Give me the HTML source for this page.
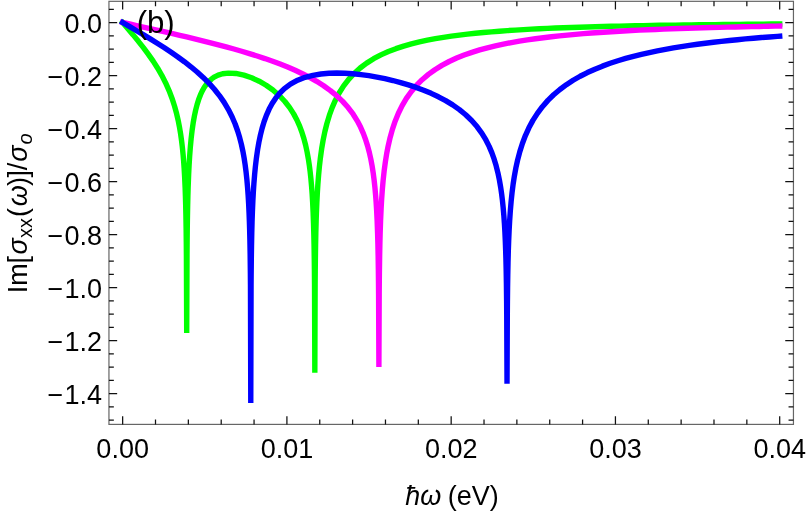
<!DOCTYPE html>
<html><head><meta charset="utf-8"><title>plot</title><style>html,body{margin:0;padding:0;background:#fff;overflow:hidden}</style></head><body>
<svg width="806" height="513" viewBox="0 0 806 513" style="position:absolute;left:0;top:0;will-change:transform;font-family:'Liberation Sans',sans-serif">
<rect x="0" y="0" width="806" height="513" fill="#fff"/>
<path d="M122.65 22.50 L127.90 28.66 L133.15 34.90 L138.40 41.30 L143.40 47.64 L148.40 54.34 L153.15 61.15 L157.65 68.19 L161.90 75.57 L165.65 82.92 L169.15 90.79 L172.15 98.68 L174.65 106.46 L176.65 113.83 L178.15 120.33 L179.40 126.65 L180.65 134.14 L181.65 141.32 L182.40 147.71 L183.15 155.34 L183.65 161.38 L184.15 168.53 L184.65 177.26 L185.15 188.49 L185.41 195.93 L185.65 204.19 L185.90 215.18 L186.15 230.34 L186.31 244.35 L186.40 254.74 L186.71 332.90 L187.01 254.69 L187.11 242.37 L187.26 228.69 L187.40 219.01 L187.65 205.62 L187.90 195.39 L188.15 187.11 L188.65 174.16 L189.15 164.21 L189.65 156.15 L190.40 146.39 L191.15 138.52 L192.15 130.01 L193.15 123.08 L194.40 115.98 L195.65 110.14 L197.15 104.36 L198.65 99.58 L200.40 94.96 L202.15 91.15 L204.15 87.55 L206.40 84.27 L208.90 81.37 L211.65 78.89 L214.65 76.84 L218.15 75.13 L222.65 73.78 L228.40 73.09 L235.90 73.48 L243.90 75.15 L251.65 77.77 L259.15 81.20 L266.15 85.24 L272.90 90.03 L279.15 95.43 L284.90 101.51 L289.65 107.63 L293.65 113.88 L296.90 119.99 L299.65 126.18 L301.90 132.21 L303.90 138.60 L305.65 145.30 L307.15 152.22 L308.40 159.17 L309.40 165.83 L310.15 171.72 L310.90 178.69 L311.65 187.20 L312.15 194.11 L312.63 202.20 L313.13 212.74 L313.53 223.76 L313.83 234.60 L314.08 246.53 L314.28 259.43 L314.40 269.29 L314.53 284.75 L314.83 372.80 L315.13 283.99 L315.23 271.75 L315.38 258.17 L315.58 244.91 L315.83 232.57 L316.13 221.28 L316.40 213.25 L316.90 201.24 L317.40 191.80 L317.90 184.03 L318.65 174.43 L319.40 166.54 L320.40 157.79 L321.65 148.82 L323.15 140.00 L324.90 131.52 L326.90 123.49 L329.40 115.18 L332.15 107.60 L335.40 100.14 L339.15 92.99 L343.65 85.88 L348.65 79.36 L354.15 73.42 L360.15 68.02 L366.65 63.13 L373.65 58.73 L380.90 54.90 L388.40 51.54 L395.90 48.67 L403.65 46.12 L411.40 43.92 L419.40 41.94 L427.40 40.21 L435.40 38.69 L443.40 37.34 L451.40 36.15 L459.40 35.09 L467.40 34.14 L475.40 33.28 L483.40 32.51 L491.40 31.82 L499.40 31.19 L507.40 30.61 L515.40 30.09 L523.40 29.61 L531.40 29.17 L539.40 28.77 L547.40 28.40 L555.40 28.06 L563.40 27.74 L571.40 27.45 L579.40 27.18 L587.40 26.93 L595.40 26.70 L603.40 26.48 L611.40 26.28 L619.40 26.09 L627.40 25.92 L635.40 25.76 L643.40 25.60 L651.40 25.46 L659.40 25.32 L667.40 25.20 L675.40 25.08 L683.40 24.96 L691.40 24.86 L699.40 24.76 L707.40 24.66 L715.40 24.58 L723.40 24.49 L731.40 24.41 L739.40 24.34 L747.40 24.26 L755.40 24.20 L763.40 24.13 L771.40 24.07 L779.40 24.01 L779.69 24.01" fill="none" stroke="#00ff00" stroke-width="5.4" stroke-linecap="square" stroke-linejoin="bevel"/>
<path d="M122.65 22.50 L130.65 24.26 L138.65 26.02 L146.65 27.79 L154.65 29.57 L162.65 31.37 L170.65 33.19 L178.65 35.04 L186.65 36.91 L194.65 38.83 L202.65 40.79 L210.65 42.80 L218.40 44.81 L226.15 46.88 L233.90 49.02 L241.65 51.25 L249.40 53.57 L257.15 56.01 L264.90 58.57 L272.65 61.28 L280.15 64.08 L287.65 67.07 L295.15 70.29 L302.40 73.68 L309.65 77.38 L316.65 81.33 L323.65 85.75 L330.40 90.58 L336.65 95.70 L342.65 101.40 L348.15 107.55 L353.15 114.23 L357.40 121.08 L360.65 127.34 L363.40 133.62 L365.65 139.70 L367.65 146.09 L369.40 152.73 L370.90 159.53 L372.15 166.29 L373.15 172.71 L374.15 180.40 L374.90 187.36 L375.65 195.81 L376.15 202.64 L376.65 210.88 L377.15 221.24 L377.60 233.43 L377.90 244.32 L378.15 256.29 L378.35 269.24 L378.50 282.56 L378.60 294.62 L378.90 366.90 L379.20 294.03 L379.30 281.81 L379.40 271.95 L379.65 255.05 L379.90 242.76 L380.15 233.04 L380.60 219.98 L381.10 208.86 L381.65 199.13 L382.40 188.66 L383.15 180.20 L384.15 170.97 L385.40 161.60 L386.65 153.86 L388.15 146.06 L390.15 137.42 L392.40 129.38 L395.15 121.23 L398.40 113.25 L402.15 105.62 L406.40 98.42 L411.15 91.69 L416.40 85.45 L422.15 79.69 L428.40 74.38 L434.90 69.69 L441.90 65.36 L449.15 61.50 L456.65 58.06 L464.15 55.05 L471.90 52.34 L479.65 49.94 L487.40 47.82 L495.40 45.88 L503.40 44.14 L511.40 42.58 L519.40 41.18 L527.40 39.91 L535.40 38.76 L543.40 37.72 L551.40 36.76 L559.40 35.89 L567.40 35.09 L575.40 34.36 L583.40 33.68 L591.40 33.06 L599.40 32.48 L607.40 31.95 L615.40 31.45 L623.40 30.99 L631.40 30.56 L639.40 30.16 L647.40 29.79 L655.40 29.44 L663.40 29.12 L671.40 28.81 L679.40 28.52 L687.40 28.25 L695.40 28.00 L703.40 27.76 L711.40 27.54 L719.40 27.33 L727.40 27.13 L735.40 26.94 L743.40 26.76 L751.40 26.59 L759.40 26.43 L767.40 26.28 L775.40 26.14 L779.69 26.06" fill="none" stroke="#ff00ff" stroke-width="5.4" stroke-linecap="square" stroke-linejoin="bevel"/>
<path d="M122.65 22.50 L129.65 26.60 L136.65 30.73 L143.65 34.90 L150.65 39.14 L157.65 43.49 L164.40 47.80 L171.15 52.28 L177.90 56.96 L184.40 61.72 L190.90 66.77 L197.15 71.99 L203.15 77.44 L208.90 83.18 L214.40 89.29 L219.40 95.57 L224.15 102.40 L228.40 109.53 L232.15 116.96 L235.15 124.01 L237.65 130.98 L239.65 137.57 L241.40 144.39 L242.90 151.34 L244.15 158.24 L245.15 164.79 L246.15 172.66 L246.90 179.79 L247.65 188.49 L248.15 195.57 L248.65 204.19 L249.07 213.28 L249.40 222.06 L249.65 230.34 L249.90 240.75 L250.15 254.74 L250.37 273.18 L250.47 285.20 L250.77 403.10 L251.07 284.26 L251.15 274.51 L251.32 258.42 L251.52 245.14 L251.77 232.79 L252.07 221.50 L252.40 211.81 L252.90 200.21 L253.40 191.06 L253.90 183.50 L254.65 174.16 L255.40 166.49 L256.40 158.03 L257.65 149.39 L258.90 142.26 L260.40 135.10 L262.15 128.15 L264.15 121.54 L266.40 115.34 L269.15 109.09 L272.15 103.50 L275.65 98.16 L279.65 93.24 L284.40 88.60 L290.40 84.11 L297.65 80.16 L305.15 77.29 L312.90 75.29 L320.90 73.98 L328.90 73.28 L336.90 73.06 L344.90 73.24 L352.90 73.77 L360.90 74.60 L368.90 75.69 L376.90 77.05 L384.90 78.65 L392.90 80.51 L400.65 82.55 L408.40 84.85 L416.15 87.43 L423.65 90.22 L431.15 93.36 L438.40 96.78 L445.65 100.64 L452.65 104.91 L459.40 109.65 L465.65 114.75 L471.65 120.51 L477.15 126.80 L481.90 133.33 L485.90 139.94 L489.15 146.37 L491.90 152.86 L494.15 159.17 L496.15 165.83 L497.90 172.80 L499.40 179.99 L500.65 187.20 L501.65 194.11 L502.40 200.22 L503.15 207.45 L503.90 216.28 L504.40 223.47 L504.90 232.22 L505.32 241.33 L505.65 250.34 L505.90 258.74 L506.15 269.29 L506.40 283.49 L506.62 301.75 L506.72 313.83 L507.02 383.70 L507.32 313.40 L507.40 303.20 L507.57 287.68 L507.77 274.50 L508.02 262.24 L508.32 251.04 L508.65 241.31 L509.15 229.83 L509.65 220.76 L510.40 209.93 L511.15 201.24 L512.15 191.80 L513.15 184.03 L514.40 175.89 L515.90 167.76 L517.65 159.82 L519.90 151.33 L522.40 143.46 L525.40 135.56 L528.90 127.83 L532.90 120.40 L537.40 113.33 L542.40 106.67 L547.90 100.40 L553.65 94.77 L559.90 89.46 L566.40 84.65 L573.15 80.26 L580.15 76.25 L587.40 72.56 L594.90 69.17 L602.40 66.13 L610.15 63.31 L617.90 60.76 L625.65 58.45 L633.40 56.34 L641.40 54.36 L649.40 52.55 L657.40 50.88 L665.40 49.35 L673.40 47.93 L681.40 46.63 L689.40 45.41 L697.40 44.29 L705.40 43.24 L713.40 42.26 L721.40 41.34 L729.40 40.49 L737.40 39.69 L745.40 38.93 L753.40 38.23 L761.40 37.56 L769.40 36.94 L777.40 36.35 L779.69 36.18" fill="none" stroke="#0000ff" stroke-width="5.4" stroke-linecap="square" stroke-linejoin="bevel"/>
<rect x="108.95" y="1.32" width="684.5" height="423.08" fill="none" stroke="#666" stroke-width="1.2"/>
<path d="M122.65 424.4 v-8.2 M122.65 1.32 v8.2 M155.50 424.4 v-4.9 M155.50 1.32 v4.9 M188.35 424.4 v-4.9 M188.35 1.32 v4.9 M221.21 424.4 v-4.9 M221.21 1.32 v4.9 M254.06 424.4 v-4.9 M254.06 1.32 v4.9 M286.91 424.4 v-8.2 M286.91 1.32 v8.2 M319.76 424.4 v-4.9 M319.76 1.32 v4.9 M352.61 424.4 v-4.9 M352.61 1.32 v4.9 M385.47 424.4 v-4.9 M385.47 1.32 v4.9 M418.32 424.4 v-4.9 M418.32 1.32 v4.9 M451.17 424.4 v-8.2 M451.17 1.32 v8.2 M484.02 424.4 v-4.9 M484.02 1.32 v4.9 M516.87 424.4 v-4.9 M516.87 1.32 v4.9 M549.73 424.4 v-4.9 M549.73 1.32 v4.9 M582.58 424.4 v-4.9 M582.58 1.32 v4.9 M615.43 424.4 v-8.2 M615.43 1.32 v8.2 M648.28 424.4 v-4.9 M648.28 1.32 v4.9 M681.13 424.4 v-4.9 M681.13 1.32 v4.9 M713.99 424.4 v-4.9 M713.99 1.32 v4.9 M746.84 424.4 v-4.9 M746.84 1.32 v4.9 M779.69 424.4 v-8.2 M779.69 1.32 v8.2 M108.95 420.11 h4.9 M793.45 420.11 h-4.9 M108.95 406.85 h4.9 M793.45 406.85 h-4.9 M108.95 393.60 h8.2 M793.45 393.60 h-8.2 M108.95 380.34 h4.9 M793.45 380.34 h-4.9 M108.95 367.09 h4.9 M793.45 367.09 h-4.9 M108.95 353.84 h4.9 M793.45 353.84 h-4.9 M108.95 340.58 h8.2 M793.45 340.58 h-8.2 M108.95 327.33 h4.9 M793.45 327.33 h-4.9 M108.95 314.08 h4.9 M793.45 314.08 h-4.9 M108.95 300.82 h4.9 M793.45 300.82 h-4.9 M108.95 287.57 h8.2 M793.45 287.57 h-8.2 M108.95 274.32 h4.9 M793.45 274.32 h-4.9 M108.95 261.06 h4.9 M793.45 261.06 h-4.9 M108.95 247.81 h4.9 M793.45 247.81 h-4.9 M108.95 234.56 h8.2 M793.45 234.56 h-8.2 M108.95 221.30 h4.9 M793.45 221.30 h-4.9 M108.95 208.05 h4.9 M793.45 208.05 h-4.9 M108.95 194.80 h4.9 M793.45 194.80 h-4.9 M108.95 181.54 h8.2 M793.45 181.54 h-8.2 M108.95 168.29 h4.9 M793.45 168.29 h-4.9 M108.95 155.03 h4.9 M793.45 155.03 h-4.9 M108.95 141.78 h4.9 M793.45 141.78 h-4.9 M108.95 128.53 h8.2 M793.45 128.53 h-8.2 M108.95 115.27 h4.9 M793.45 115.27 h-4.9 M108.95 102.02 h4.9 M793.45 102.02 h-4.9 M108.95 88.77 h4.9 M793.45 88.77 h-4.9 M108.95 75.51 h8.2 M793.45 75.51 h-8.2 M108.95 62.26 h4.9 M793.45 62.26 h-4.9 M108.95 49.01 h4.9 M793.45 49.01 h-4.9 M108.95 35.75 h4.9 M793.45 35.75 h-4.9 M108.95 22.50 h8.2 M793.45 22.50 h-8.2 M108.95 9.25 h4.9 M793.45 9.25 h-4.9" fill="none" stroke="#111" stroke-width="1.25"/>
<text x="122.65" y="458.3" font-size="27" text-anchor="middle">0.00</text>
<text x="286.91" y="458.3" font-size="27" text-anchor="middle">0.01</text>
<text x="451.17" y="458.3" font-size="27" text-anchor="middle">0.02</text>
<text x="615.43" y="458.3" font-size="27" text-anchor="middle">0.03</text>
<text x="779.69" y="458.3" font-size="27" text-anchor="middle">0.04</text>
<text x="102.1" y="32.90" font-size="27" text-anchor="end"><tspan>0.0</tspan></text>
<text x="102.1" y="85.91" font-size="27" text-anchor="end">−<tspan dx="1.3">0.2</tspan></text>
<text x="102.1" y="138.93" font-size="27" text-anchor="end">−<tspan dx="1.3">0.4</tspan></text>
<text x="102.1" y="191.94" font-size="27" text-anchor="end">−<tspan dx="1.3">0.6</tspan></text>
<text x="102.1" y="244.96" font-size="27" text-anchor="end">−<tspan dx="1.3">0.8</tspan></text>
<text x="102.1" y="297.97" font-size="27" text-anchor="end">−<tspan dx="1.3">1.0</tspan></text>
<text x="102.1" y="350.98" font-size="27" text-anchor="end">−<tspan dx="1.3">1.2</tspan></text>
<text x="102.1" y="404.00" font-size="27" text-anchor="end">−<tspan dx="1.3">1.4</tspan></text>
<text y="505.2" font-size="27"><tspan x="405.3" font-style="italic">ħω</tspan><tspan x="440.3"> (eV)</tspan></text>
<text transform="translate(26.8 291.0) rotate(-90)" font-size="27"><tspan x="-2.25" y="0" font-size="27">I</tspan><tspan x="5.20" y="0" font-size="27">m</tspan><tspan x="27.44" y="0" font-size="27">[</tspan><tspan x="36.54" y="0" font-size="27" font-style="italic">σ</tspan><tspan x="52.95" y="5.1" font-size="20">xx</tspan><tspan x="74.05" y="0" font-size="27">(</tspan><tspan x="84.72" y="0" font-size="27" font-style="italic">ω</tspan><tspan x="105.01" y="0" font-size="27">)</tspan><tspan x="113.46" y="0" font-size="27">]</tspan><tspan x="120.80" y="0" font-size="27">/</tspan><tspan x="129.30" y="0" font-size="27" font-style="italic">σ</tspan><tspan x="146.58" y="5.1" font-size="20" font-style="italic">o</tspan></text>
<text x="136.65" y="33.3" font-size="31.2">(b)</text>
</svg>
</body></html>
